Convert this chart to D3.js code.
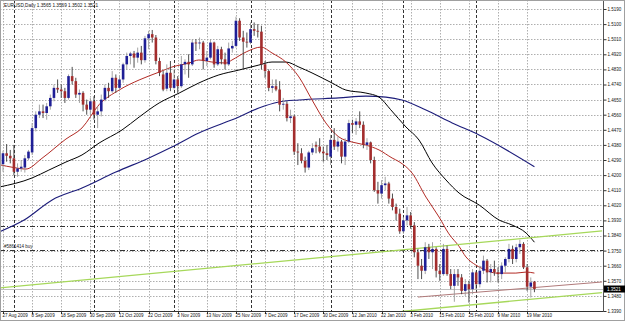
<!DOCTYPE html>
<html>
<head>
<meta charset="utf-8">
<script src="https://cdn.jsdelivr.net/npm/d3@7.9.0/dist/d3.min.js"></script>
<style>
  html, body { margin: 0; padding: 0; background: #fff; }
  svg { display: block; font-family: "Liberation Sans", Arial, sans-serif; }
</style>
</head>
<body>
<svg id="chart" width="625" height="321"></svg>
<script>
// daily bars, 27 Aug 2009 .. 23 Mar 2010
const dates = [
  "2009-08-27","2009-08-28","2009-08-31","2009-09-01","2009-09-02","2009-09-03","2009-09-04","2009-09-07","2009-09-08","2009-09-09",
  "2009-09-10","2009-09-11","2009-09-14","2009-09-15","2009-09-16","2009-09-17","2009-09-18","2009-09-21","2009-09-22","2009-09-23",
  "2009-09-24","2009-09-25","2009-09-28","2009-09-29","2009-09-30","2009-10-01","2009-10-02","2009-10-05","2009-10-06","2009-10-07",
  "2009-10-08","2009-10-09","2009-10-12","2009-10-13","2009-10-14","2009-10-15","2009-10-16","2009-10-19","2009-10-20","2009-10-21",
  "2009-10-22","2009-10-23","2009-10-26","2009-10-27","2009-10-28","2009-10-29","2009-10-30","2009-11-02","2009-11-03","2009-11-04",
  "2009-11-05","2009-11-06","2009-11-09","2009-11-10","2009-11-11","2009-11-12","2009-11-13","2009-11-16","2009-11-17","2009-11-18",
  "2009-11-19","2009-11-20","2009-11-23","2009-11-24","2009-11-25","2009-11-26","2009-11-27","2009-11-30","2009-12-01","2009-12-02",
  "2009-12-03","2009-12-04","2009-12-07","2009-12-08","2009-12-09","2009-12-10","2009-12-11","2009-12-14","2009-12-15","2009-12-16",
  "2009-12-17","2009-12-18","2009-12-21","2009-12-22","2009-12-23","2009-12-24","2009-12-28","2009-12-29","2009-12-30","2009-12-31",
  "2010-01-04","2010-01-05","2010-01-06","2010-01-07","2010-01-08","2010-01-11","2010-01-12","2010-01-13","2010-01-14","2010-01-15",
  "2010-01-18","2010-01-19","2010-01-20","2010-01-21","2010-01-22","2010-01-25","2010-01-26","2010-01-27","2010-01-28","2010-01-29",
  "2010-02-01","2010-02-02","2010-02-03","2010-02-04","2010-02-05","2010-02-08","2010-02-09","2010-02-10","2010-02-11","2010-02-12",
  "2010-02-15","2010-02-16","2010-02-17","2010-02-18","2010-02-19","2010-02-22","2010-02-23","2010-02-24","2010-02-25","2010-02-26",
  "2010-03-01","2010-03-02","2010-03-03","2010-03-04","2010-03-05","2010-03-08","2010-03-09","2010-03-10","2010-03-11","2010-03-12",
  "2010-03-15","2010-03-16","2010-03-17","2010-03-18","2010-03-19","2010-03-22","2010-03-23"
];
const open = [
  1.4265,1.4330,1.4315,1.4300,1.4220,1.4240,1.4245,1.4300,1.4335,1.4480,
  1.4560,1.4580,1.4570,1.4610,1.4660,1.4720,1.4710,1.4700,1.4660,1.4790,
  1.4760,1.4680,1.4690,1.4620,1.4590,1.4640,1.4560,1.4580,1.4650,1.4720,
  1.4700,1.4780,1.4720,1.4770,1.4860,1.4910,1.4925,1.4900,1.4930,1.4885,
  1.5015,1.5040,1.5020,1.4880,1.4800,1.4715,1.4810,1.4720,1.4770,1.4730,
  1.4860,1.4875,1.4860,1.4990,1.4985,1.4990,1.4880,1.4900,1.4990,1.4860,
  1.4950,1.4890,1.4860,1.4955,1.4970,1.5120,1.5020,1.4995,1.4990,1.5070,
  1.5060,1.5055,1.4860,1.4820,1.4720,1.4730,1.4710,1.4620,1.4625,1.4540,
  1.4550,1.4340,1.4330,1.4285,1.4245,1.4335,1.4380,1.4370,1.4340,1.4330,
  1.4310,1.4410,1.4370,1.4400,1.4310,1.4400,1.4510,1.4500,1.4520,1.4500,
  1.4380,1.4395,1.4290,1.4110,1.4090,1.4140,1.4150,1.4060,1.4010,1.3970,
  1.3865,1.3930,1.3960,1.3900,1.3740,1.3660,1.3630,1.3770,1.3740,1.3760,
  1.3630,1.3610,1.3760,1.3610,1.3540,1.3610,1.3590,1.3510,1.3550,1.3520,
  1.3620,1.3550,1.3630,1.3690,1.3620,1.3640,1.3620,1.3610,1.3660,1.3700,
  1.3760,1.3700,1.3770,1.3790,1.3650,1.3535,1.3565
];
const high = [
  1.4345,1.4385,1.4350,1.4380,1.4270,1.4290,1.4320,1.4350,1.4510,1.4580,
  1.4620,1.4620,1.4630,1.4680,1.4740,1.4770,1.4740,1.4720,1.4800,1.4845,
  1.4780,1.4710,1.4700,1.4650,1.4660,1.4670,1.4610,1.4680,1.4740,1.4750,
  1.4820,1.4800,1.4790,1.4870,1.4930,1.4935,1.4940,1.4960,1.4970,1.5030,
  1.5060,1.5065,1.5035,1.4900,1.4820,1.4860,1.4880,1.4830,1.4790,1.4910,
  1.4890,1.4920,1.5010,1.5010,1.5020,1.5000,1.4940,1.5010,1.4995,1.4970,
  1.4965,1.4930,1.4990,1.5000,1.5144,1.5135,1.5060,1.5050,1.5110,1.5110,
  1.5100,1.5090,1.4880,1.4830,1.4770,1.4770,1.4760,1.4660,1.4640,1.4590,
  1.4560,1.4390,1.4360,1.4310,1.4345,1.4390,1.4400,1.4420,1.4370,1.4380,
  1.4440,1.4480,1.4430,1.4410,1.4420,1.4530,1.4530,1.4540,1.4580,1.4520,
  1.4420,1.4400,1.4310,1.4160,1.4170,1.4190,1.4160,1.4090,1.4030,1.4000,
  1.3950,1.4010,1.3980,1.3920,1.3760,1.3700,1.3800,1.3790,1.3800,1.3770,
  1.3670,1.3790,1.3780,1.3640,1.3640,1.3640,1.3610,1.3580,1.3570,1.3640,
  1.3630,1.3660,1.3720,1.3700,1.3670,1.3690,1.3650,1.3680,1.3710,1.3790,
  1.3780,1.3790,1.3815,1.3800,1.3670,1.3590,1.3569
];
const low = [
  1.4220,1.4280,1.4270,1.4200,1.4190,1.4220,1.4215,1.4290,1.4320,1.4460,
  1.4540,1.4540,1.4530,1.4590,1.4640,1.4690,1.4660,1.4630,1.4650,1.4740,
  1.4660,1.4630,1.4580,1.4560,1.4560,1.4530,1.4480,1.4550,1.4640,1.4660,
  1.4690,1.4690,1.4710,1.4750,1.4830,1.4860,1.4840,1.4870,1.4860,1.4870,
  1.4950,1.4990,1.4860,1.4790,1.4700,1.4700,1.4700,1.4710,1.4690,1.4720,
  1.4800,1.4780,1.4850,1.4940,1.4950,1.4830,1.4850,1.4890,1.4840,1.4850,
  1.4860,1.4830,1.4850,1.4930,1.4960,1.5000,1.4830,1.4960,1.4980,1.5030,
  1.5020,1.4830,1.4780,1.4700,1.4690,1.4700,1.4580,1.4590,1.4520,1.4510,
  1.4320,1.4260,1.4270,1.4215,1.4230,1.4320,1.4330,1.4330,1.4280,1.4290,
  1.4260,1.4350,1.4340,1.4270,1.4260,1.4390,1.4450,1.4440,1.4480,1.4360,
  1.4350,1.4270,1.4100,1.4030,1.4060,1.4110,1.4030,1.3990,1.3930,1.3850,
  1.3850,1.3900,1.3880,1.3710,1.3580,1.3580,1.3610,1.3700,1.3640,1.3590,
  1.3570,1.3600,1.3600,1.3520,1.3445,1.3540,1.3490,1.3480,1.3440,1.3490,
  1.3520,1.3530,1.3610,1.3560,1.3560,1.3600,1.3560,1.3580,1.3620,1.3680,
  1.3670,1.3680,1.3730,1.3640,1.3510,1.3470,1.3502
];
const close = [
  1.4330,1.4315,1.4300,1.4220,1.4240,1.4250,1.4300,1.4340,1.4480,1.4560,
  1.4580,1.4570,1.4610,1.4660,1.4720,1.4710,1.4700,1.4660,1.4790,1.4760,
  1.4680,1.4690,1.4620,1.4590,1.4640,1.4560,1.4580,1.4650,1.4720,1.4700,
  1.4780,1.4720,1.4770,1.4860,1.4910,1.4925,1.4900,1.4930,1.4885,1.5015,
  1.5040,1.5020,1.4880,1.4810,1.4710,1.4810,1.4720,1.4770,1.4730,1.4860,
  1.4875,1.4860,1.4990,1.4985,1.4990,1.4880,1.4900,1.4990,1.4860,1.4950,
  1.4890,1.4860,1.4955,1.4970,1.5120,1.5020,1.4995,1.4990,1.5070,1.5060,
  1.5055,1.4860,1.4820,1.4720,1.4730,1.4710,1.4620,1.4625,1.4540,1.4550,
  1.4340,1.4335,1.4285,1.4245,1.4335,1.4360,1.4370,1.4340,1.4330,1.4320,
  1.4410,1.4370,1.4400,1.4310,1.4400,1.4510,1.4500,1.4520,1.4500,1.4380,
  1.4395,1.4290,1.4110,1.4090,1.4140,1.4150,1.4060,1.4010,1.3970,1.3865,
  1.3930,1.3960,1.3900,1.3740,1.3660,1.3630,1.3770,1.3740,1.3760,1.3630,
  1.3610,1.3760,1.3610,1.3540,1.3610,1.3590,1.3510,1.3550,1.3520,1.3620,
  1.3550,1.3630,1.3690,1.3620,1.3640,1.3620,1.3610,1.3660,1.3700,1.3760,
  1.3700,1.3770,1.3790,1.3650,1.3535,1.3560,1.3521
];

// moving averages: [bar index, price]
const maFast = [
  [-1,1.4262],[3,1.4245],[6.3,1.4236],[10.7,1.4300],[17.3,1.4415],[21.7,1.4481],[26.4,1.4620],
  [31.9,1.4707],[37.4,1.4767],[42.9,1.4814],[46.4,1.4844],[51.1,1.4868],[53.8,1.4886],[57.4,1.4874],
  [61.3,1.4868],[62.9,1.4886],[66.8,1.4934],[70.9,1.4963],[73.9,1.4928],[77.7,1.4874],[81.3,1.4785],
  [84.9,1.4648],[88.7,1.4511],[92.3,1.4427],[95.9,1.4397],[99.7,1.4379],[103.3,1.4350],[106.9,1.4302],
  [108.8,1.4280],[112.4,1.4212],[116.2,1.4069],[119.8,1.3950],[122.5,1.3850],[125.3,1.3775],[127.2,1.3712],
  [129.9,1.3664],[132.7,1.3634],[135.4,1.3616],[138.2,1.3616],[140.9,1.3616],[143.7,1.3622],[146,1.3616]
];
const maMid = [
  [-1,1.4129],[8,1.4183],[12.6,1.4230],[17.3,1.4278],[21.7,1.4320],[26.4,1.4391],[32.7,1.4469],
  [37.4,1.4546],[42.9,1.4630],[48.4,1.4689],[53.8,1.4749],[59.3,1.4797],[64.8,1.4826],[70.3,1.4856],
  [73.9,1.4874],[77.7,1.4874],[81.3,1.4844],[84.9,1.4809],[90.4,1.4749],[94.2,1.4707],[99.7,1.4689],
  [103.3,1.4665],[106.5,1.4590],[110.7,1.4487],[114.3,1.4409],[117.9,1.4272],[121.7,1.4171],[125.3,1.4093],
  [130.8,1.4022],[136.3,1.3932],[139.8,1.3903],[143.7,1.3855],[146,1.3800]
];
const maSlow = [
  [-1,1.3862],[5.8,1.3932],[13.5,1.4052],[21.7,1.4123],[31,1.4218],[40.1,1.4302],[46.4,1.4367],
  [53.8,1.4451],[64.8,1.4546],[70.3,1.4600],[75.8,1.4636],[81.3,1.4648],[92.3,1.4660],[99.7,1.4671],
  [105.2,1.4665],[109.6,1.4648],[116.2,1.4588],[123.4,1.4511],[130.8,1.4439],[146,1.4250]
];

// drawn objects: two anchor points each [bar index, price]
const channelUpper = [[-1.1, 1.3527], [164.6, 1.3867]];
const channelLower = [[109.6, 1.3387], [164.6, 1.3500]];
const brownLine = [[114, 1.3473], [164.6, 1.3563]];
const levelLines = [1.3897, 1.3754];
const levelLabel = "#5861414 buy";
const bidPrice = 1.3521;

const priceTicks = [1.3390,1.3480,1.3570,1.3660,1.3750,1.3840,1.3930,1.4020,1.4110,1.4200,
  1.4290,1.4380,1.4470,1.4560,1.4650,1.4740,1.4830,1.4920,1.5010,1.5100,1.5190];
const monthStarts = ["2009-09-01","2009-10-01","2009-11-02","2009-12-01","2010-01-04","2010-02-01","2010-03-01"];
const labelEvery = 8;
const title = "EURUSD,Daily  1.3565 1.3569 1.3502 1.3521";

const W = 625, H = 321;
const plotRight = 603, plotBottom = 311;

const x = d3.scaleLinear().domain([0, 164.84]).range([3, plotRight]);
const y = d3.scaleLinear().domain([1.339, 1.519]).range([plotBottom, 9]);

const bars = dates.map((d, i) => ({
  i, date: d3.timeParse("%Y-%m-%d")(d),
  o: open[i], h: high[i], l: low[i], c: close[i]
}));
const fmtDate = d3.timeFormat("%-d %b %Y");

const svg = d3.select("#chart");
svg.append("rect").attr("width", W).attr("height", H).attr("fill", "#fff");

svg.append("clipPath").attr("id", "plot")
  .append("rect").attr("x", 0).attr("y", 0).attr("width", plotRight).attr("height", plotBottom);

const plot = svg.append("g").attr("clip-path", "url(#plot)");

// grid
plot.append("g").selectAll("line")
  .data(priceTicks.slice(1))
  .join("line")
  .attr("x1", 0).attr("x2", plotRight)
  .attr("y1", d => Math.round(y(d)) + 0.5).attr("y2", d => Math.round(y(d)) + 0.5)
  .attr("stroke", "#9a9a9a").attr("stroke-width", 0.8).attr("stroke-dasharray", "1.5,1.5");

const labelBars = bars.filter(b => b.i % labelEvery === 0);
plot.append("g").selectAll("line")
  .data(labelBars)
  .join("line")
  .attr("x1", d => Math.round(x(d.i)) + 0.5).attr("x2", d => Math.round(x(d.i)) + 0.5)
  .attr("y1", 0).attr("y2", plotBottom)
  .attr("stroke", "#9a9a9a").attr("stroke-width", 0.8).attr("stroke-dasharray", "1.5,1.5");

// period separators (months)
const sepBars = bars.filter(b => monthStarts.includes(dates[b.i]));
plot.append("g").selectAll("line")
  .data(sepBars)
  .join("line")
  .attr("x1", d => Math.round(x(d.i)) + 0.5).attr("x2", d => Math.round(x(d.i)) + 0.5)
  .attr("y1", 0).attr("y2", plotBottom)
  .attr("stroke", "#333").attr("stroke-width", 1).attr("stroke-dasharray", "3,2");

// level lines
plot.append("g").selectAll("line")
  .data(levelLines)
  .join("line")
  .attr("x1", 0).attr("x2", plotRight)
  .attr("y1", d => Math.round(y(d)) + 0.5).attr("y2", d => Math.round(y(d)) + 0.5)
  .attr("stroke", "#333").attr("stroke-width", 1).attr("stroke-dasharray", "5,2,1,2");
plot.append("text")
  .attr("x", 4).attr("y", y(levelLines[1]) - 1.5)
  .attr("font-size", 4.5).attr("fill", "#222")
  .text(levelLabel);

// bid line
plot.append("line")
  .attr("x1", 0).attr("x2", plotRight)
  .attr("y1", Math.round(y(bidPrice)) + 0.5).attr("y2", Math.round(y(bidPrice)) + 0.5)
  .attr("stroke", "#c0c0c0").attr("stroke-width", 1);

// moving averages
const maLine = d3.line().x(d => x(d[0])).y(d => y(d[1])).curve(d3.curveMonotoneX);
[[maSlow, "#1c1c7a", 1.1], [maMid, "#000", 1], [maFast, "#b22a24", 1]].forEach(([pts, col, w]) => {
  plot.append("path").attr("d", maLine(pts))
    .attr("fill", "none").attr("stroke", col).attr("stroke-width", w);
});

// trend lines
const straight = d3.line().x(d => x(d[0])).y(d => y(d[1]));
[[channelUpper, "#a6d85a", 1.3], [channelLower, "#a6d85a", 1.3], [brownLine, "#b07a7a", 1]].forEach(([pts, col, w]) => {
  plot.append("path").attr("d", straight(pts))
    .attr("fill", "none").attr("stroke", col).attr("stroke-width", w);
});

// candles
const bodyW = 2.6;
const cg = plot.append("g");
cg.selectAll("line.wick")
  .data(bars)
  .join("line")
  .attr("class", "wick")
  .attr("x1", d => x(d.i)).attr("x2", d => x(d.i))
  .attr("y1", d => y(d.h)).attr("y2", d => y(d.l))
  .attr("stroke", d => d.c >= d.o ? "#9a9a9a" : "#3a3a3a").attr("stroke-width", 0.9);
cg.selectAll("rect.body")
  .data(bars)
  .join("rect")
  .attr("class", "body")
  .attr("x", d => x(d.i) - bodyW / 2).attr("width", bodyW)
  .attr("y", d => y(Math.max(d.o, d.c)))
  .attr("height", d => Math.max(0.8, Math.abs(y(d.o) - y(d.c))))
  .attr("fill", d => d.c >= d.o ? "#1f1f96" : "#a32d2d");

// frame
svg.append("line").attr("x1", plotRight + 0.5).attr("x2", plotRight + 0.5)
  .attr("y1", 0).attr("y2", plotBottom + 0.5).attr("stroke", "#555");
svg.append("line").attr("x1", 0).attr("x2", plotRight + 0.5)
  .attr("y1", plotBottom + 0.5).attr("y2", plotBottom + 0.5).attr("stroke", "#333");
svg.append("rect").attr("x", 0.5).attr("y", 0.5).attr("width", W - 1).attr("height", H - 1)
  .attr("fill", "none").attr("stroke", "#a0a0a0");

// price axis
const yAxis = d3.axisRight(y).tickValues(priceTicks).tickSize(3).tickPadding(1)
  .tickFormat(d3.format(".4f"));
const ya = svg.append("g").attr("transform", `translate(${plotRight + 0.5},0)`).call(yAxis);
ya.select(".domain").remove();
ya.selectAll("text").attr("font-size", 4.5).attr("fill", "#111").attr("font-family", "Liberation Sans, Arial, sans-serif");
ya.selectAll("line").attr("stroke", "#333");

// bid box
const by = y(bidPrice);
svg.append("rect").attr("x", plotRight + 1).attr("y", by - 3.5).attr("width", 21).attr("height", 7).attr("fill", "#000");
svg.append("text").attr("x", plotRight + 4).attr("y", by).attr("dy", "0.35em")
  .attr("font-size", 4.5).attr("fill", "#fff").text(d3.format(".4f")(bidPrice));

// time axis
const tg = svg.append("g");
tg.selectAll("line").data(labelBars).join("line")
  .attr("x1", d => Math.round(x(d.i)) + 0.5).attr("x2", d => Math.round(x(d.i)) + 0.5)
  .attr("y1", plotBottom).attr("y2", plotBottom + 3).attr("stroke", "#333");
tg.selectAll("text").data(labelBars).join("text")
  .attr("x", d => x(d.i) - 0.5).attr("y", 317)
  .attr("font-size", 4.5).attr("fill", "#111")
  .text(d => fmtDate(d.date));

// title
svg.append("text").attr("x", 4).attr("y", 7).attr("font-size", 4.7).attr("fill", "#111").text(title);
</script>
</body>
</html>
